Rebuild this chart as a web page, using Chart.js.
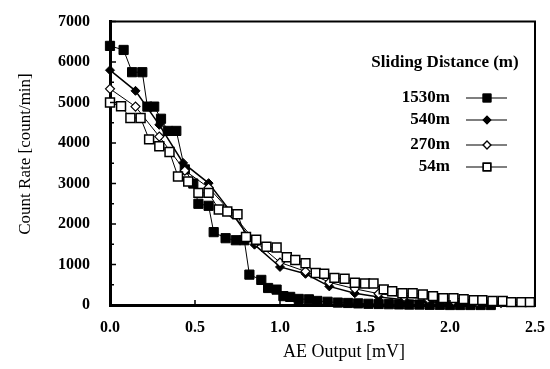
<!DOCTYPE html>
<html>
<head>
<meta charset="utf-8">
<script src="https://cdn.jsdelivr.net/npm/chart.js@4.4.0/dist/chart.umd.min.js"></script>
<style>
  html, body { margin: 0; padding: 0; background: #fff; }
  #wrap { width: 550px; height: 369px; }
</style>
</head>
<body>
<div id="wrap"><canvas id="ae-chart"></canvas></div>
<script>
// values (AE output in mV, count rate in count/min)
const x1530 = [0, 0.08, 0.13, 0.19, 0.22, 0.26, 0.30, 0.34, 0.39, 0.44, 0.49, 0.52, 0.58, 0.61, 0.68, 0.74, 0.79, 0.82, 0.89, 0.93, 0.98, 1.02, 1.06, 1.11, 1.17, 1.22, 1.28, 1.34, 1.40, 1.46, 1.52, 1.58, 1.64, 1.70, 1.76, 1.82, 1.88, 1.94, 2.00, 2.06, 2.12, 2.18, 2.24];
const y1530 = [6400, 6300, 5750, 5750, 4900, 4900, 4600, 4300, 4300, 3350, 3000, 2500, 2450, 1800, 1650, 1600, 1600, 750, 620, 420, 380, 220, 200, 150, 140, 100, 80, 60, 50, 40, 30, 25, 20, 15, 10, 10, 5, 5, 0, 0, 0, 0, 0];

const x540 = [0, 0.15, 0.29, 0.43, 0.58, 0.72, 0.85, 1.0, 1.15, 1.29, 1.44, 1.58, 1.73, 1.87, 2.02, 2.16];
const y540 = [5800, 5290, 4450, 3510, 3010, 2250, 1490, 940, 770, 460, 290, 200, 130, 80, 50, 30];

const x270 = [0, 0.15, 0.29, 0.44, 0.58, 0.72, 0.86, 1.0, 1.15, 1.29, 1.44, 1.58, 1.73, 1.87, 2.02, 2.16, 2.30];
const y270 = [5340, 4900, 4160, 3320, 2900, 2250, 1550, 1050, 830, 560, 400, 280, 200, 150, 100, 70, 50];

const x54 = [0, 0.065, 0.12, 0.18, 0.23, 0.29, 0.35, 0.40, 0.46, 0.52, 0.58, 0.64, 0.69, 0.75, 0.80, 0.86, 0.92, 0.98, 1.04, 1.09, 1.15, 1.21, 1.26, 1.32, 1.38, 1.44, 1.50, 1.55, 1.61, 1.66, 1.72, 1.78, 1.84, 1.90, 1.96, 2.02, 2.08, 2.14, 2.19, 2.25, 2.31, 2.36, 2.42, 2.47];
const y54 = [5000, 4910, 4620, 4620, 4090, 3920, 3780, 3175, 3050, 2770, 2770, 2360, 2310, 2240, 1680, 1610, 1440, 1420, 1180, 1110, 1030, 790, 770, 670, 650, 550, 530, 530, 385, 340, 290, 290, 260, 220, 170, 170, 145, 120, 120, 100, 100, 70, 70, 70];

const seriesNames = ["1530m", "540m", "270m", "54m"];
const legendTitle = "Sliding Distance (m)";
const xTitle = "AE Output [mV]";
const yTitle = "Count Rate [count/min]";

const serif = "'Liberation Serif', 'DejaVu Serif', serif";

function pts(xs, ys) {
  return xs.map((x, i) => ({ x: x, y: ys[i] }));
}

// frame, inward ticks, axis titles and the legend box
const decorPlugin = {
  id: "decor",
  afterDraw(chart) {
    const ctx = chart.ctx;
    const a = chart.chartArea;
    const xs = chart.scales.x;
    const ys = chart.scales.y;
    ctx.save();
    ctx.strokeStyle = "#000";

    // top and right frame
    ctx.lineWidth = 2;
    ctx.beginPath();
    ctx.moveTo(a.left, a.top);
    ctx.lineTo(a.right, a.top);
    ctx.lineTo(a.right, a.bottom);
    ctx.stroke();

    // inward ticks
    ctx.lineWidth = 1.5;
    ctx.beginPath();
    for (let v = 0; v <= 7000; v += 500) {
      const py = ys.getPixelForValue(v);
      const len = v % 1000 === 0 ? 6 : 4;
      ctx.moveTo(a.left, py);
      ctx.lineTo(a.left + len, py);
    }
    for (let v = 0.5; v < 2.5; v += 0.5) {
      const px = xs.getPixelForValue(v);
      ctx.moveTo(px, a.bottom);
      ctx.lineTo(px, a.bottom - 5);
    }
    ctx.stroke();

    // axis titles
    ctx.fillStyle = "#000";
    ctx.font = "18px " + serif;
    ctx.textAlign = "center";
    ctx.textBaseline = "middle";
    ctx.fillText(xTitle, 344, 352);
    ctx.save();
    ctx.translate(26, 154);
    ctx.rotate(-Math.PI / 2);
    ctx.font = "17px " + serif;
    ctx.fillText(yTitle, 0, 0);
    ctx.restore();

    // legend
    ctx.font = "bold 17px " + serif;
    ctx.textAlign = "center";
    ctx.fillText(legendTitle, 445, 63);
    const rows = [98, 120, 145, 167];
    rows.forEach((ry, i) => {
      const ds = chart.data.datasets[i];
      ctx.textAlign = "right";
      ctx.font = "bold 17px " + serif;
      ctx.fillText(ds.label, 450, ry);
      ctx.strokeStyle = "#000";
      ctx.lineWidth = 1.2;
      ctx.beginPath();
      ctx.moveTo(466, ry);
      ctx.lineTo(507, ry);
      ctx.stroke();
      Chart.helpers.drawPoint(ctx, {
        pointStyle: ds.pointStyle,
        radius: ds.pointRadius * 0.85,
        borderWidth: ds.pointBorderWidth,
        rotation: 0
      }, 487, ry);
      ctx.fillStyle = ds.pointBackgroundColor;
      ctx.strokeStyle = "#000";
      ctx.lineWidth = ds.pointBorderWidth;
      ctx.fill();
      ctx.stroke();
      ctx.fillStyle = "#000";
    });
    ctx.restore();
  }
};

const ctx = document.getElementById("ae-chart").getContext("2d");

new Chart(ctx, {
  type: "scatter",
  data: {
    datasets: [
      {
        label: seriesNames[0],
        data: pts(x1530, y1530),
        showLine: true,
        clip: false,
        borderColor: "#000",
        borderWidth: 1,
        pointStyle: "rect",
        pointRadius: 6.5,
        pointBackgroundColor: "#000",
        pointBorderColor: "#000",
        pointBorderWidth: 1,
        order: 3
      },
      {
        label: seriesNames[1],
        data: pts(x540, y540),
        showLine: true,
        clip: false,
        borderColor: "#000",
        borderWidth: 1.5,
        pointStyle: "rectRot",
        pointRadius: 4.5,
        pointBackgroundColor: "#000",
        pointBorderColor: "#000",
        pointBorderWidth: 1,
        order: 2
      },
      {
        label: seriesNames[2],
        data: pts(x270, y270),
        showLine: true,
        clip: false,
        borderColor: "#000",
        borderWidth: 1,
        pointStyle: "rectRot",
        pointRadius: 4.5,
        pointBackgroundColor: "#fff",
        pointBorderColor: "#000",
        pointBorderWidth: 1.2,
        order: 1
      },
      {
        label: seriesNames[3],
        data: pts(x54, y54),
        showLine: true,
        clip: false,
        borderColor: "#000",
        borderWidth: 1,
        pointStyle: "rect",
        pointRadius: 6.3,
        pointBackgroundColor: "#fff",
        pointBorderColor: "#000",
        pointBorderWidth: 1.5,
        order: 0
      }
    ]
  },
  options: {
    responsive: true,
    maintainAspectRatio: false,
    animation: false,
    layout: { padding: { top: 14, right: 15, left: 0, bottom: 0 } },
    plugins: {
      legend: { display: false },
      tooltip: { enabled: false },
      title: { display: false }
    },
    scales: {
      x: {
        type: "linear",
        min: 0,
        max: 2.5,
        grid: { display: false },
        border: { display: true, color: "#000", width: 3 },
        ticks: {
          stepSize: 0.5,
          color: "#000",
          padding: 5,
          maxRotation: 0,
          font: { family: serif, size: 16, weight: "bold" },
          callback: (v) => Number(v).toFixed(1)
        },
        afterFit: (scale) => { scale.height = 64; }
      },
      y: {
        min: 0,
        max: 7000,
        grid: { display: false },
        border: { display: true, color: "#000", width: 3 },
        ticks: {
          stepSize: 1000,
          color: "#000",
          padding: 12,
          font: { family: serif, size: 16, weight: "bold" },
          callback: (v) => String(v)
        },
        afterFit: (scale) => { scale.width = 110; }
      }
    }
  },
  plugins: [decorPlugin]
});
</script>
</body>
</html>
